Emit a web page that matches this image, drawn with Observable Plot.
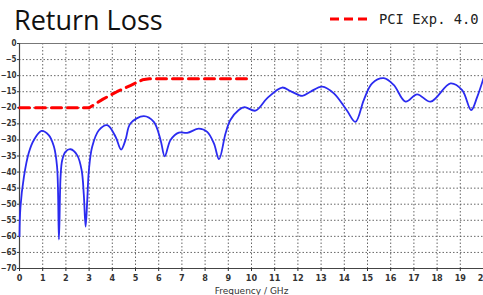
<!DOCTYPE html>
<html><head><meta charset="utf-8">
<script src="https://cdn.jsdelivr.net/npm/d3@7"></script>
<script src="https://cdn.jsdelivr.net/npm/@observablehq/plot@0.6"></script>
<style>
html,body{margin:0;padding:0;background:#fff;}
#wrap{position:relative;width:483px;height:295px;overflow:hidden;}
#title{position:absolute;left:14px;top:1px;font-family:"Open Sans",sans-serif;font-size:27px;color:#111;white-space:nowrap;}
#legend{position:absolute;left:330px;top:9px;white-space:nowrap;display:flex;align-items:center;}
#legend svg{display:block;}
#legend span{font-family:"DejaVu Sans Mono",monospace;font-size:13.8px;color:#222;margin-left:11px;}
#chart{position:absolute;left:0;top:0;}
</style></head>
<body><div id="wrap"><div id="chart"></div><div id="title">Return Loss</div>
<div id="legend"><svg width="38" height="20"><line x1="0" y1="10" x2="38" y2="10" stroke="#f00" stroke-width="3" stroke-dasharray="9,5"/></svg><span>PCI Exp. 4.0</span></div></div>
<script>
const measFreq = [0, 0.04, 0.19, 0.4, 0.62, 0.95, 1.26, 1.48, 1.62, 1.7, 1.77, 1.84, 1.98, 2.2, 2.49, 2.68, 2.77, 2.85, 2.92, 2.99, 3.13, 3.42, 3.78, 4.14, 4.38, 4.57, 4.78, 5.36, 5.79, 6.08, 6.26, 6.51, 6.87, 7.23, 7.73, 8.09, 8.38, 8.6, 8.88, 9.09, 9.45, 9.7, 10.17, 10.68, 11.32, 11.68, 12.19, 12.54, 13.05, 13.55, 14.1, 14.48, 14.84, 15.2, 15.7, 16.13, 16.64, 17.14, 17.72, 18.58, 19.08, 19.47, 19.73, 20];
const measDb = [-60, -51, -41.5, -34, -30, -27.2, -28.5, -32, -38.4, -61, -41.5, -36.3, -33.7, -32.9, -34.8, -39.5, -46.8, -57, -48.8, -39.5, -32.2, -27, -25.4, -29, -33, -30, -24.9, -22.6, -24.4, -30, -35.1, -30, -27.7, -27.8, -26.5, -27.5, -31.1, -36, -28, -23.8, -20.7, -19.8, -20.9, -17, -13.7, -14.8, -16.3, -15, -13.4, -15.5, -20.7, -24.4, -17.6, -12.4, -10.8, -12.9, -18.1, -15.8, -18.1, -12.4, -14.5, -20.7, -16.6, -10.8];
const specFreq = [0, 3, 3.6, 4.2, 4.8, 5.3, 5.6, 10];
const specDb = [-20, -20, -17.3, -15, -13, -11.3, -11, -11];
const xTicks = d3.range(0, 21, 1);
const yTicks = d3.range(-70, 1, 5);
const xLabel = "Frequency / GHz";

const meas = measFreq.map((f, i) => ({f, db: measDb[i]}));
const spec = specFreq.map((f, i) => ({f, db: specDb[i]}));

const chart = Plot.plot({
  width: 483, height: 295,
  marginLeft: 19, marginRight: 0, marginTop: 43, marginBottom: 27,
  style: {fontFamily: "'DejaVu Sans Condensed', 'Liberation Sans Narrow', sans-serif", fontSize: "9px", color: "#333", background: "white", overflow: "visible"},
  x: {domain: [0, 20], label: null},
  y: {domain: [-70, 0], label: null},
  marks: [
    Plot.gridX(xTicks, {stroke: "#555", strokeOpacity: 0.9, strokeDasharray: "1.5,2"}),
    Plot.gridY(yTicks, {stroke: "#555", strokeOpacity: 0.9, strokeDasharray: "1.5,2"}),
    Plot.ruleY([0], {stroke: "#777", strokeWidth: 1}),
    Plot.ruleY([-70], {stroke: "#444", strokeWidth: 1.2}),
    Plot.ruleX([0], {stroke: "#444", strokeWidth: 1.2}),
    Plot.line(spec, {x: "f", y: "db", stroke: "#f00", strokeWidth: 3, strokeDasharray: "10,6", curve: "linear"}),
    Plot.line(meas, {x: "f", y: "db", stroke: "#2b2bf0", strokeWidth: 1.8, curve: "catmull-rom"}),
    Plot.axisX({ticks: xTicks, tickSize: 3, tickPadding: 3, label: null, fontWeight: "bold"}),
    Plot.axisY({ticks: yTicks, tickSize: 2, tickPadding: 1, label: null, fontWeight: "bold", fontSize: 8}),
    Plot.text([xLabel], {frameAnchor: "bottom", dy: 25, fontSize: 9, fill: "#333", fontFamily: "DejaVu Sans, sans-serif"})
  ]
});
document.getElementById("chart").appendChild(chart);
</script></body></html>
